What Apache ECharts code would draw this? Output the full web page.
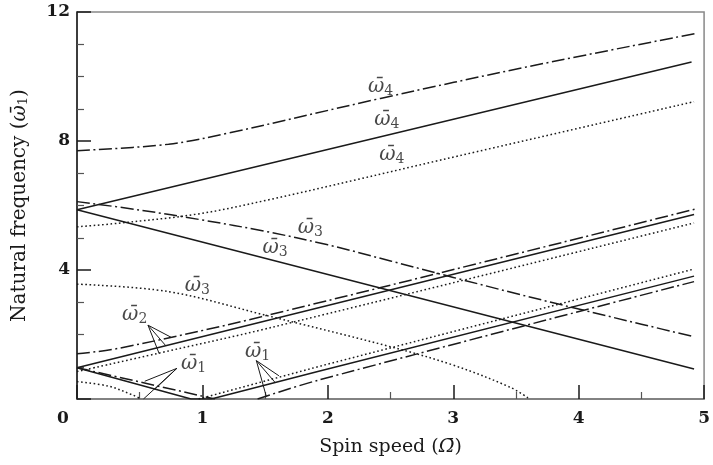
<!DOCTYPE html>
<html>
<head>
<meta charset="utf-8">
<script src="https://cdn.jsdelivr.net/npm/echarts@6/dist/echarts.min.js"></script>
<style>
  html, body { margin: 0; padding: 0; background: #fff; }
  #chart { width: 713px; height: 465px; }
</style>
</head>
<body>
<div id="chart"></div>
<script>
// curves: [spin speed, natural frequency]
var solidW1 = [[0, 0.97], [0.91, 0], [1.07, 0], [1.92, 0.85], [4.92, 3.81]];
var solidW2 = [[0, 0.97], [4.92, 5.72]];
var solidW3 = [[0, 5.87], [4.92, 0.93]];
var solidW4 = [[0, 5.87], [4.9, 10.45]];

var dotW1b = [[0, 0.54], [0.25, 0.4], [0.44, 0.13], [0.51, 0]];
var dotW1f = [[0.97, 0], [1.92, 1.0], [4.92, 4.03]];
var dotW2 = [[0, 0.85], [0.65, 1.42], [1.52, 2.19], [4.92, 5.46]];
var dotW3 = [[0, 3.56], [0.73, 3.33], [1.5, 2.6], [2.5, 1.62], [3.0, 1.05], [3.45, 0.37], [3.61, 0]];
var dotW4 = [[0, 5.34], [0.33, 5.45], [0.97, 5.74], [1.52, 6.17], [2.24, 6.81], [2.9, 7.41], [4.92, 9.22]];

var dashW1b = [[0, 0.97], [1.1, 0]];
var dashW1f = [[1.44, 0], [1.92, 0.58], [4.92, 3.64]];
var dashW2 = [[0, 1.4], [0.33, 1.57], [1.47, 2.55], [4.93, 5.89]];
var dashW3 = [[0, 6.12], [0.5, 5.86], [1.0, 5.55], [1.5, 5.2], [2.0, 4.78], [2.5, 4.28],
    [3.0, 3.77], [3.5, 3.27], [4.0, 2.79], [4.5, 2.32], [4.92, 1.93]];
var dashW4 = [[0, 7.7], [0.73, 7.9], [1.21, 8.25], [2.42, 9.32], [3.59, 10.3], [4.94, 11.34]];

// mode labels [x, y, subscript]
var modeLabels = [
    [2.42, 9.67, '4'], [2.47, 8.65, '4'], [2.51, 7.57, '4'],
    [1.86, 5.3, '3'], [1.58, 4.68, '3'], [0.96, 3.5, '3'],
    [0.46, 2.6, '2'], [0.93, 1.08, '1'], [1.44, 1.46, '1']
];
// leader lines: origin then three targets
var leaderW2 = [[0.566, 2.29], [0.757, 1.90], [0.704, 1.67], [0.656, 1.40]];
var leaderW1a = [[0.796, 0.95], [0.54, 0.55], [0.62, 0.30], [0.53, 0.0]];
var leaderW1b = [[1.43, 1.19], [1.61, 0.72], [1.58, 0.51], [1.51, 0.07]];

var xTicks = [0, 1, 2, 3, 4, 5];
var yTicks = [0, 4, 8, 12];

var serif = 'DejaVu Serif';
var ink = '#1a1a1a';

function curve(data, style, smooth) {
    var ls = { color: ink, width: 1.5, type: 'solid' };
    if (style === 'dot') { ls.type = [1.6, 2.6]; ls.width = 1.5; }
    if (style === 'dash') { ls.type = [13, 3.5, 2, 3.5]; }
    return {
        type: 'line', data: data, showSymbol: false, smooth: smooth ? 0.35 : false,
        lineStyle: ls, silent: true, z: 3
    };
}

function leader(pts) {
    // origin -> each target
    var d = [];
    for (var i = 1; i < pts.length; i++) {
        d.push(pts[0], pts[i]);
        d.push(null);
    }
    return {
        type: 'line', data: d, showSymbol: false, connectNulls: false,
        lineStyle: { color: ink, width: 1 }, silent: true, z: 4
    };
}

var myChart = echarts.init(document.getElementById('chart'));
var option = {
    animation: false,
    backgroundColor: '#fff',
    grid: {
        left: 77, right: 5, top: 12, bottom: 66, show: true,
        borderColor: '#888', borderWidth: 1.5
    },
    xAxis: {
        type: 'value', min: xTicks[0], max: xTicks[xTicks.length - 1], interval: 1,
        name: 'Spin speed ({i|\u03A9\u0304})', nameLocation: 'middle', nameGap: 39,
        nameTextStyle: {
            fontFamily: serif, fontSize: 19, color: ink,
            rich: { i: { fontFamily: serif, fontStyle: 'italic', fontSize: 19, color: ink } }
        },
        axisLine: { lineStyle: { color: '#777', width: 1.5 } },
        axisTick: { inside: true, length: 14, lineStyle: { color: ink, width: 1.5 } },
        minorTick: { show: true, splitNumber: 2, length: 7, lineStyle: { color: '#555', width: 1.2 } },
        splitLine: { show: false },
        axisLabel: {
            fontFamily: serif, fontSize: 17, fontWeight: 'bold', color: ink, margin: 11,
            formatter: function (v) { return v === 0 ? '{o|0}' : String(v); },
            rich: { o: { fontFamily: serif, fontSize: 17, fontWeight: 'bold', color: ink, padding: [0, 28, 0, 0] } }
        }
    },
    yAxis: {
        type: 'value', min: yTicks[0], max: yTicks[yTicks.length - 1], interval: 4,
        name: 'Natural frequency ({i|\u03C9\u0304}{s|1})', nameLocation: 'middle', nameGap: 47,
        nameTextStyle: {
            fontFamily: serif, fontSize: 20, color: ink,
            rich: {
                i: { fontFamily: serif, fontStyle: 'italic', fontSize: 20, color: ink },
                s: { fontFamily: serif, fontSize: 13, color: ink, padding: [8, 0, 0, 0] }
            }
        },
        axisLine: { show: true, lineStyle: { color: ink, width: 1.5 } },
        axisTick: { inside: true, length: 14, lineStyle: { color: ink, width: 1.5 } },
        minorTick: { show: true, splitNumber: 4, length: 7, lineStyle: { color: '#555', width: 1.2 } },
        splitLine: { show: false },
        axisLabel: {
            fontFamily: serif, fontSize: 17, fontWeight: 'bold', color: ink, margin: 7,
            showMinLabel: false
        }
    },
    series: [
        curve(solidW1, 'solid', false),
        curve(solidW2, 'solid', false),
        curve(solidW3, 'solid', false),
        curve(solidW4, 'solid', false),
        curve(dotW1b, 'dot', true),
        curve(dotW1f, 'dot', false),
        curve(dotW2, 'dot', true),
        curve(dotW3, 'dot', true),
        curve(dotW4, 'dot', true),
        curve(dashW1b, 'dash', false),
        curve(dashW1f, 'dash', true),
        curve(dashW2, 'dash', true),
        curve(dashW3, 'dash', true),
        curve(dashW4, 'dash', true),
        leader(leaderW2),
        leader(leaderW1a),
        leader(leaderW1b),
        {
            type: 'scatter', data: modeLabels, symbolSize: 1, silent: true, z: 5,
            itemStyle: { color: 'rgba(0,0,0,0)' },
            label: {
                show: true, position: 'inside',
                formatter: function (p) { return '{w|\u03C9\u0304}{s|' + p.data[2] + '}'; },
                rich: {
                    w: { fontFamily: serif, fontStyle: 'italic', fontSize: 20, color: ink },
                    s: { fontFamily: serif, fontSize: 14, color: ink, padding: [9, 0, 0, 0] }
                }
            }
        }
    ]
};
myChart.setOption(option);
</script>
</body>
</html>
